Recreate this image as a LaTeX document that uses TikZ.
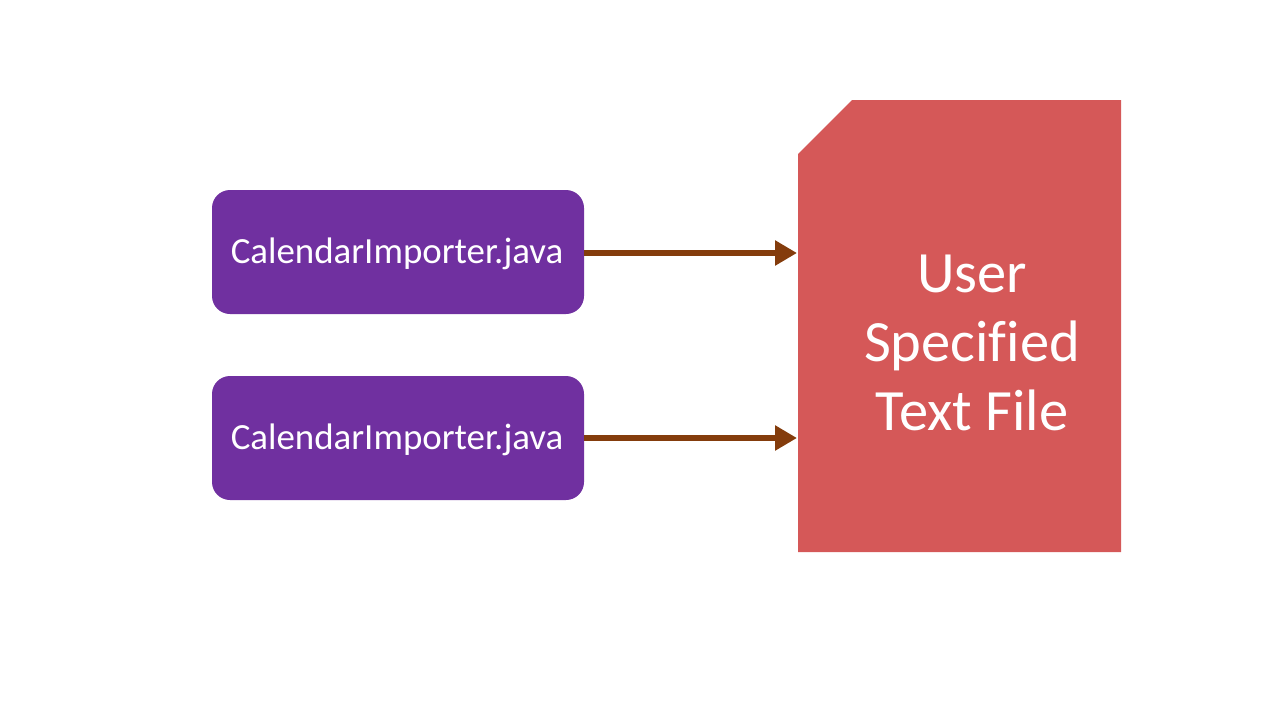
\documentclass[tikz,border=0pt]{standalone}
\usepackage{fontspec}
\setmainfont[Ligatures=CommonOff]{Carlito}
\definecolor{boxpurple}{HTML}{7030A0}
\definecolor{arrowbrown}{HTML}{843C0C}
\definecolor{filered}{HTML}{D55858}
\usetikzlibrary{arrows.meta}
\tikzset{
  javabox/.style={fill=boxpurple, rounded corners=18pt, draw=none, text=white,
    minimum width=372pt, minimum height=124pt, inner sep=0pt,
    font=\fontsize{36.9}{44}\selectfont},
  flowarrow/.style={draw=arrowbrown, line width=6pt,
    -{Triangle[length=22pt,width=24pt]}, shorten >=1pt},
}
\begin{document}
\begin{tikzpicture}[x=1pt,y=-1pt]
\useasboundingbox (0,0) rectangle (1280,720);
\node[javabox] (j1) at (398,252) {};
\node[text=white, font=\fontsize{36.9}{44}\selectfont] (t1) at (397,254) {CalendarImporter.java};
\node[javabox] (j2) at (398,438) {};
\node[text=white, font=\fontsize{36.9}{44}\selectfont] (t2) at (397,440) {CalendarImporter.java};
\fill[filered] (852,100) -- (1121,100) -- (1121,552) -- (798,552) -- (798,154) -- cycle;
\node[text=white, align=center, font=\fontsize{58.5}{69}\selectfont] (file) at (972,343) {User\\Specified\\Text File};
\coordinate (in1) at (798,253);
\coordinate (in2) at (798,438);
\draw[flowarrow] (j1.east |- in1) -- (in1);
\draw[flowarrow] (j2.east |- in2) -- (in2);
\end{tikzpicture}
\end{document}
